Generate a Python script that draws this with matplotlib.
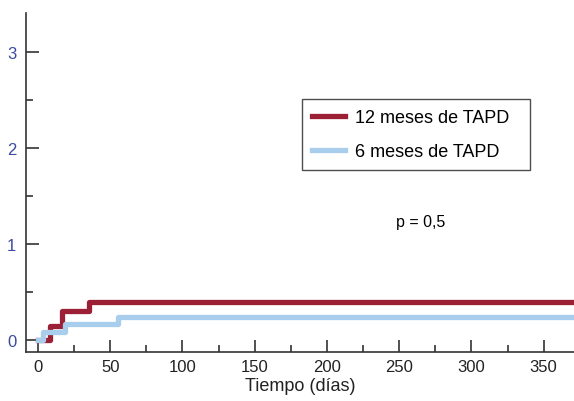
import matplotlib.pyplot as plt
from matplotlib.ticker import MultipleLocator

plt.rcParams['font.family'] = ['Liberation Sans', 'DejaVu Sans']

# step curves (days, cumulative value)
dias_12 = [0, 8.5, 16.5, 35, 372]
valores_12 = [0, 0.15, 0.305, 0.39, 0.39]
dias_6 = [0, 3.7, 18.7, 55.6, 372]
valores_6 = [0, 0.087, 0.17, 0.236, 0.236]

etiquetas = ['12 meses de TAPD', '6 meses de TAPD']
colores = ['#9b2036', '#a9cdec']

fig = plt.figure(figsize=(5.74, 4.02), dpi=100)
ax = fig.add_axes([0.0453, 0.122, 0.9547, 0.843])

ax.step(dias_6, valores_6, where='post', color=colores[1], lw=3.8, label=etiquetas[1], zorder=2)
ax.step(dias_12, valores_12, where='post', color=colores[0], lw=3.8, label=etiquetas[0], zorder=1)

ax.set_xlim(-8.3, 371)
ax.set_ylim(-0.125, 3.4)

for s in ['top', 'right']:
    ax.spines[s].set_visible(False)
for s in ['left', 'bottom']:
    ax.spines[s].set_color('#333333')
    ax.spines[s].set_linewidth(1.2)

ax.xaxis.set_major_locator(MultipleLocator(50))
ax.xaxis.set_minor_locator(MultipleLocator(25))
ax.yaxis.set_major_locator(MultipleLocator(1))
ax.yaxis.set_minor_locator(MultipleLocator(0.5))
ax.tick_params(which='major', direction='in', length=9, width=1.2, color='#333333')
ax.tick_params(which='minor', direction='in', length=5, width=1.2, color='#333333')
ax.tick_params(axis='x', labelsize=12, labelcolor='#222222', pad=5)
ax.tick_params(axis='y', labelsize=12, labelcolor='#3a4aa0', pad=7)

ax.set_xlabel('Tiempo (días)', fontsize=13, color='#222222', labelpad=2)

handles, labels = ax.get_legend_handles_labels()
leg = ax.legend(handles[::-1], labels[::-1], loc='upper left',
                bbox_to_anchor=(0.504, 0.54, 0.416, 0.206), mode='expand',
                borderaxespad=0, fontsize=13, frameon=True, fancybox=False, edgecolor='#222222',
                handlelength=1.8, handletextpad=0.55, borderpad=0.55, labelspacing=0.95)
leg.get_frame().set_linewidth(1.0)

ax.text(265, 1.23, 'p = 0,5', fontsize=11.5, ha='center', va='center')

fig.savefig('out.png', dpi=100)
